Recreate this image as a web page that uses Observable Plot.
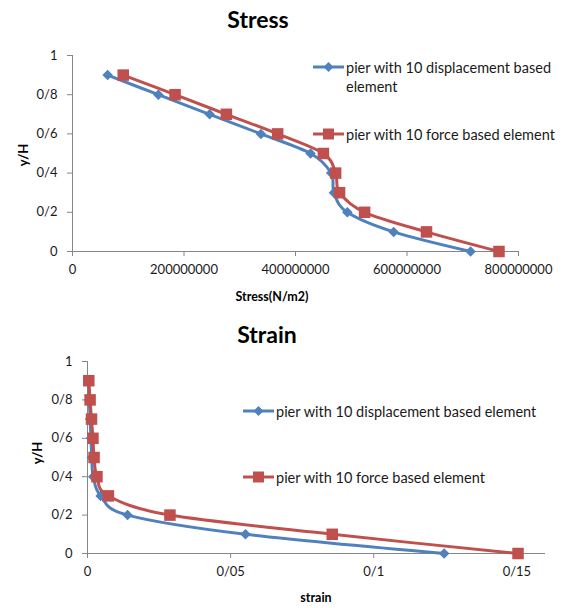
<!DOCTYPE html>
<html>
<head>
<meta charset="utf-8">
<script src="https://cdn.jsdelivr.net/npm/d3@7"></script>
<script src="https://cdn.jsdelivr.net/npm/@observablehq/plot@0.6"></script>
<style>
  body { margin: 0; background: #fff; font-family: Lato, "Open Sans", sans-serif; }
  #root { position: relative; width: 568px; height: 608px; overflow: hidden; }
  #root > svg { position: absolute; left: 0; }
  .abs { position: absolute; white-space: nowrap; line-height: 1; color: #000; }
  .title { font-weight: bold; font-size: 23px; transform: translate(-50%, -50%); }
  .xlab { font-weight: bold; font-size: 12.5px; transform: translate(-50%, -50%); }
  .ylab { font-weight: bold; font-size: 13px; transform: translate(-50%, -50%) rotate(-90deg); }
  .leg { font-size: 14.5px; color: #1a1a1a; display: flex; align-items: flex-start; }
  .leg svg { flex: none; }
  .leg span { line-height: 19px; margin-top: -3.5px; }
</style>
</head>
<body>
<div id="root"></div>
<script>
// Relative height along the pier (y/H), top to bottom
const heights = [0.9, 0.8, 0.7, 0.6, 0.5, 0.4, 0.3, 0.2, 0.1, 0];

// Stress (N/m2) at each height
const stressDisp  = [63e6, 154e6, 246e6, 338e6, 427e6, 464e6, 469e6, 493e6, 576e6, 714e6];
const stressForce = [91e6, 184e6, 276e6, 368e6, 450e6, 472e6, 479e6, 524e6, 635e6, 765e6];

// Strain at each height
const strainDisp  = [0.0003, 0.0006, 0.0009, 0.0012, 0.0015, 0.002, 0.0046, 0.014, 0.0552, 0.1246];
const strainForce = [0.00045, 0.0009, 0.0014, 0.0019, 0.0023, 0.0033, 0.0073, 0.0288, 0.0855, 0.1504];

// Axis ticks
const stressTicks = [0, 200000000, 400000000, 600000000, 800000000];
const strainTicks = [0, 0.05, 0.1, 0.15];
const yTicks = [0, 0.2, 0.4, 0.6, 0.8, 1];

const seriesNames = [
  "pier with 10 displacement based element",
  "pier with 10 force based element"
];
const colors = ["#4F81BD", "#C0504D"];

// Decimal separator drawn as "/"
const fmt = d => String(d).replace(".", "/");

// Excel-style diamond: a square turned 45°
const diamond = {
  draw(ctx, size) {
    const h = Math.sqrt(size / 2);
    ctx.moveTo(0, -h); ctx.lineTo(h, 0); ctx.lineTo(0, h); ctx.lineTo(-h, 0); ctx.closePath();
  }
};

function rows(values) {
  return heights.map((h, i) => ({x: values[i], y: h}));
}

function chart({disp, force, domain, ticks, height, marginLeft, marginRight, marginTop, marginBottom}) {
  const a = rows(disp), b = rows(force);
  return Plot.plot({
    width: 568, height, marginLeft, marginRight, marginTop, marginBottom,
    style: {fontFamily: "Lato, 'Open Sans', sans-serif", fontSize: "13px", color: "#1a1a1a", background: "transparent"},
    x: {domain, label: null},
    y: {domain: [0, 1], label: null},
    marks: [
      Plot.ruleY([0], {stroke: "#868686", strokeWidth: 1}),
      Plot.ruleX([domain[0]], {stroke: "#868686", strokeWidth: 1}),
      Plot.axisX({ticks, tickFormat: fmt, tickSize: 5, tickPadding: 8, stroke: "#868686", label: null}),
      Plot.axisY({ticks: yTicks, tickFormat: fmt, tickSize: 5, tickPadding: 10, stroke: "#868686", label: null}),
      Plot.line(a, {x: "x", y: "y", stroke: colors[0], strokeWidth: 3, curve: "cardinal"}),
      Plot.dot(a, {x: "x", y: "y", symbol: diamond, r: 4.2, fill: colors[0], stroke: null}),
      Plot.line(b, {x: "x", y: "y", stroke: colors[1], strokeWidth: 3, curve: "cardinal"}),
      Plot.dot(b, {x: "x", y: "y", symbol: "square", r: 6.5, fill: colors[1], stroke: null})
    ]
  });
}

const root = document.getElementById("root");

const stressSvg = chart({
  disp: stressDisp, force: stressForce, domain: [0, 800000000], ticks: stressTicks,
  height: 305, marginLeft: 72, marginRight: 50, marginTop: 55, marginBottom: 54
});
stressSvg.style.top = "0px";
root.appendChild(stressSvg);

const strainSvg = chart({
  disp: strainDisp, force: strainForce, domain: [0, 0.16], ticks: strainTicks,
  height: 303, marginLeft: 87, marginRight: 23, marginTop: 56, marginBottom: 55
});
strainSvg.style.top = "305px";
root.appendChild(strainSvg);

function text(cls, str, x, y) {
  const d = document.createElement("div");
  d.className = "abs " + cls;
  d.textContent = str;
  d.style.left = x + "px";
  d.style.top = y + "px";
  root.appendChild(d);
}

text("title", "Stress", 258, 19);
text("title", "Strain", 267, 334);
text("xlab", "Stress(N/m2)", 272, 297);
text("xlab", "strain", 316, 598);
text("ylab", "y/H", 23, 155);
text("ylab", "y/H", 37, 453);

function legendItem(i, x, y, label, width) {
  const d = document.createElement("div");
  d.className = "abs leg";
  d.style.left = x + "px";
  d.style.top = (y - 6) + "px";
  const ns = "http://www.w3.org/2000/svg";
  const s = document.createElementNS(ns, "svg");
  s.setAttribute("width", 33); s.setAttribute("height", 12);
  const ln = document.createElementNS(ns, "line");
  ln.setAttribute("x1", 0); ln.setAttribute("x2", 31); ln.setAttribute("y1", 6); ln.setAttribute("y2", 6);
  ln.setAttribute("stroke", colors[i]); ln.setAttribute("stroke-width", 3);
  s.appendChild(ln);
  const m = document.createElementNS(ns, "path");
  m.setAttribute("d", i === 0 ? "M15.5,1L20.5,6L15.5,11L10.5,6Z" : "M10,0.5h11v11h-11Z");
  m.setAttribute("fill", colors[i]);
  s.appendChild(m);
  d.appendChild(s);
  const t = document.createElement("span");
  t.textContent = label;
  t.style.whiteSpace = width ? "normal" : "nowrap";
  if (width) t.style.width = width + "px";
  d.appendChild(t);
  root.appendChild(d);
}

legendItem(0, 313, 67, seriesNames[0], 214);
legendItem(1, 313, 134, seriesNames[1]);
legendItem(0, 243, 411, seriesNames[0]);
legendItem(1, 243, 477, seriesNames[1]);
</script>
</body>
</html>
